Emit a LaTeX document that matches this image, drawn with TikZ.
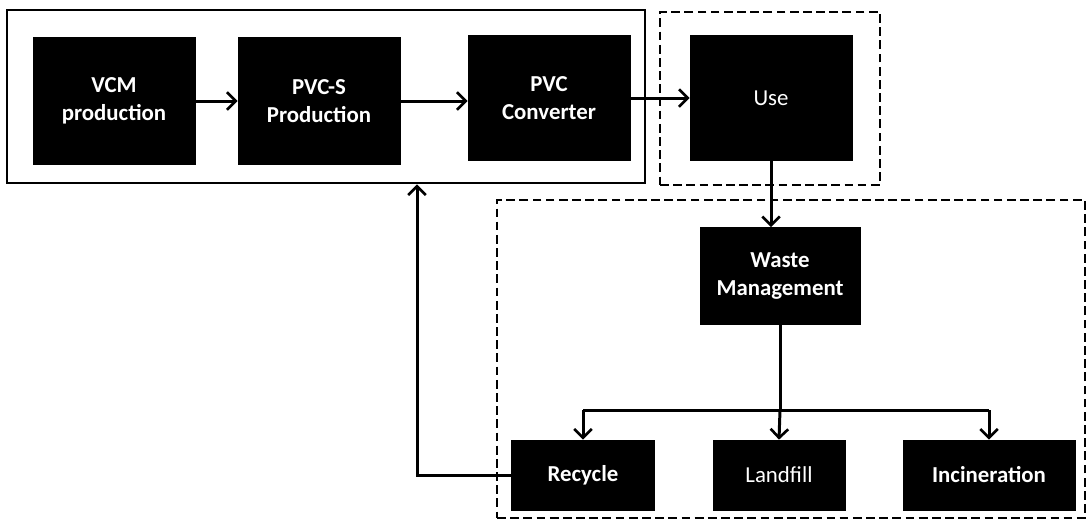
\documentclass[tikz,border=0pt]{standalone}
\usepackage{fontspec}
\setmainfont{Carlito}
\usetikzlibrary{arrows.meta}
\begin{document}
\begin{tikzpicture}[x=0.02cm,y=-0.02cm,
  blk/.style={draw=black,fill=black,text=white,align=center,inner sep=0pt,font=\fontsize{13}{16}\selectfont\bfseries},
  blkr/.style={blk,font=\fontsize{13}{16}\selectfont},
  grp/.style={draw=black,line width=1.6pt,inner sep=0pt},
  dgrp/.style={grp,dash pattern=on 5pt off 2.5pt},
  arr/.style={line width=1.7pt,-{Straight Barb[length=5pt,width=10pt,line width=1.5pt]}},
  ln/.style={line width=1.7pt}]
\useasboundingbox (0,0) rectangle (1087,522);
% containers
\node[grp,minimum width=12.76cm,minimum height=3.46cm] (g1) at (326,96.5) {};
\node[dgrp,minimum width=4.4cm,minimum height=3.46cm] (g2) at (770,98.5) {};
\node[dgrp,minimum width=11.76cm,minimum height=6.36cm] (g3) at (791,359) {};
% blocks
\node[blk,minimum width=3.24cm,minimum height=2.54cm] (vcm) at (114,101) {VCM\\production};
\node[blk,minimum width=3.24cm,minimum height=2.54cm] (pvcs) at (319,101) {PVC-S\\Production};
\node[blk,minimum width=3.24cm,minimum height=2.5cm] (conv) at (549,98) {PVC\\Converter};
\node[blkr,minimum width=3.24cm,minimum height=2.5cm] (use) at (771,98) {Use};
\node[blk,minimum width=3.2cm,minimum height=1.94cm] (waste) at (780,276) {Waste\\Management};
\node[blk,minimum width=2.86cm,minimum height=1.4cm] (rec) at (583,475) {Recycle};
\node[blkr,minimum width=2.64cm,minimum height=1.4cm] (land) at (779,475) {Landfill};
\node[blk,minimum width=3.44cm,minimum height=1.4cm] (inc) at (989,475) {Incineration};
% connectors
\draw[arr] (vcm.east) -- (pvcs.west |- vcm.east);
\draw[arr] (pvcs.east) -- (conv.west |- pvcs.east);
\draw[arr] (conv.east) -- (use.west);
\draw[arr] (use.south) -- (use.south |- waste.north);
\coordinate (sp) at (780,410);
\draw[ln] (waste.south) -- (sp);
\draw[ln] (rec.north |- sp) -- (inc.north |- sp);
\draw[arr] (rec.north |- sp) -- (rec.north);
\draw[arr] (sp) -- (land.north);
\draw[arr] (inc.north |- sp) -- (inc.north);
\coordinate (fb) at (417,475);
\draw[arr] (rec.west) -- (fb) -- (fb |- g1.south);
\end{tikzpicture}
\end{document}
